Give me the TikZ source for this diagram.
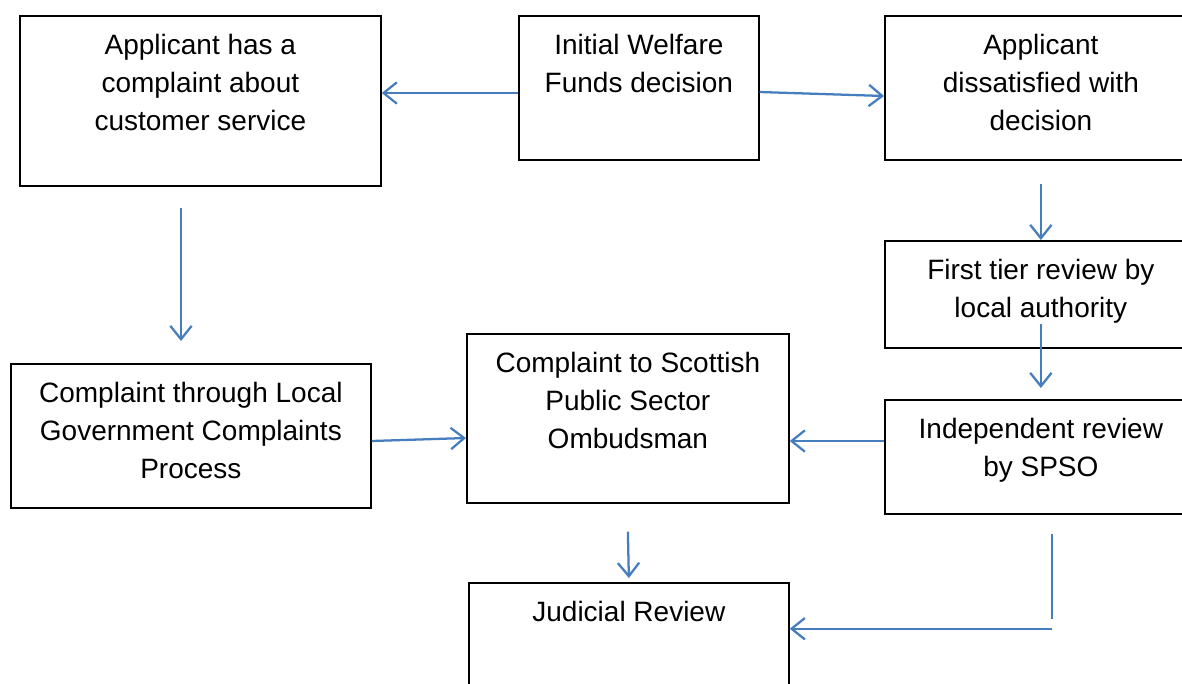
\documentclass[tikz,border=0pt]{standalone}
\usepackage{fontspec}
\setmainfont{Liberation Sans}
\usetikzlibrary{arrows.meta, calc}

\definecolor{flowblue}{RGB}{70,125,190}
\newlength{\pxu}\setlength{\pxu}{0.75pt}
\newcommand{\boxtext}[3]{\parbox[t][#2\pxu][t]{#1\pxu}{\centering #3}}

\begin{document}
\begin{tikzpicture}[x=0.75pt, y=-0.75pt,
    box/.style={draw, line width=1.3pt, anchor=north west, inner xsep=0pt,
      inner ysep=18\pxu, font=\fontsize{21}{28.7}\selectfont},
    flow/.style={draw=flowblue, line width=1.7pt,
      -{Straight Barb[length=10pt, width=16pt]}}]
  \clip (0,0) rectangle (1182,683);

  % boxes
  \node[box] (custapp) at (19,15) {\boxtext{361}{134}{Applicant has a\\complaint about\\customer service}};
  \node[box] (initial) at (518,15) {\boxtext{240}{108}{Initial Welfare\\Funds decision}};
  \node[box] (dissat) at (884,15) {\boxtext{312}{108}{Applicant\\dissatisfied with\\decision}};
  \node[box] (firsttier) at (884,240) {\boxtext{312}{71}{First tier review by\\local authority}};
  \node[box] (indep) at (884,399) {\boxtext{312}{78}{Independent review\\by SPSO}};
  \node[box] (ombud) at (466,333) {\boxtext{322}{133}{Complaint to Scottish\\Public Sector\\Ombudsman}};
  \node[box] (localgov) at (10,363) {\boxtext{360}{108}{Complaint through Local\\Government Complaints\\Process}};
  \node[box] (judicial) at (468,582) {\boxtext{320}{104}{Judicial Review}};

  % arrows
  \draw[flow] (initial.west |- 0,93) -- (custapp.east |- 0,93);
  \draw[flow] (initial.east |- 0,92) -- (dissat.west |- 0,96);
  \draw[flow] ($(dissat.south)+(0,23)$) -- (firsttier.north);
  \draw[flow] ($(custapp.south -| 181,0)+(0,21)$) -- ($(localgov.north -| 181,0)+(0,-22)$);
  \draw[flow] ($(firsttier.south)+(0,-25)$) -- ($(indep.north)+(0,-11)$);
  \draw[flow] (localgov.east |- 0,441) -- (ombud.west |- 0,438);
  \draw[flow] (indep.west |- 0,441) -- (ombud.east |- 0,441);
  \draw[flow] ($(ombud.south)+(0,28)$) -- ($(judicial.north)+(0,-4)$);
  \draw[flow, -] ($(indep.south -| 1052,0)+(0,19)$) -- ++(0,85);
  \coordinate (jrbend) at ($(indep.south -| 1052,0)+(0,114)$);
  \draw[flow] (jrbend) -- (judicial.east |- jrbend);
\end{tikzpicture}
\end{document}
